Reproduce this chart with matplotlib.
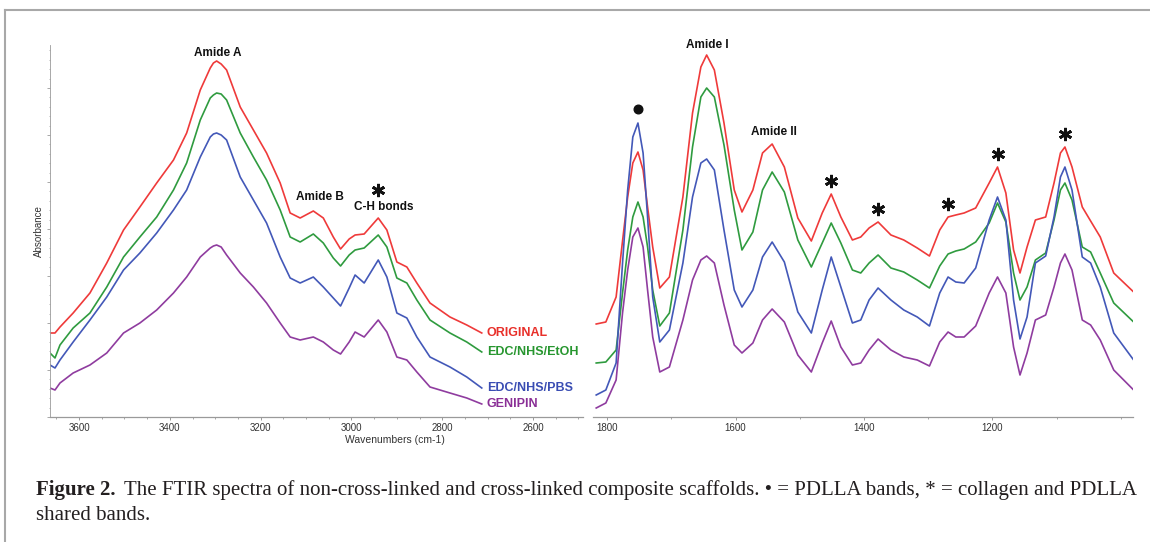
import matplotlib
matplotlib.use('Agg')
import matplotlib.pyplot as plt
import matplotlib.transforms as mtransforms
from matplotlib.lines import Line2D
from matplotlib.ticker import MultipleLocator, NullFormatter, FixedLocator

plt.rcParams['font.family'] = ['Liberation Sans', 'DejaVu Sans']

# ---------------- data ----------------
series_names = ['ORIGINAL', 'EDC/NHS/EtOH', 'EDC/NHS/PBS', 'GENIPIN']

# high wavenumber region (cm-1)
wn_high = [3664, 3653, 3642, 3613, 3576, 3539, 3502, 3466, 3429, 3392, 3363, 3333, 3311,
           3304, 3297, 3287, 3275, 3245, 3216, 3187, 3157, 3135, 3113, 3084, 3062, 3040,
           3024, 3005, 2992, 2972, 2941, 2922, 2900, 2878, 2856, 2827, 2783, 2746, 2713]
original_high = [84, 84, 90, 104, 124, 154, 187, 210, 234, 257, 284, 327, 349, 354, 356, 353,
                 347, 310, 287, 264, 234, 204, 199, 206, 199, 180, 168, 178, 182, 183, 199,
                 187, 155, 150, 134, 114, 100, 92, 84]
etoh_high = [64, 59, 72, 89, 104, 130, 160, 180, 200, 227, 254, 297, 319, 322, 324, 323, 317,
             284, 260, 237, 207, 180, 175, 183, 174, 159, 151, 162, 167, 169, 182, 170, 139,
             134, 117, 97, 84, 75, 65]
pbs_high = [52, 49, 57, 75, 97, 120, 147, 164, 184, 207, 227, 260, 280, 283, 284, 282, 277,
            240, 217, 194, 160, 139, 134, 140, 130, 119, 111, 129, 142, 134, 157, 140, 104,
            99, 80, 60, 50, 40, 29]
genipin_high = [29, 27, 34, 44, 52, 64, 84, 94, 107, 124, 140, 160, 169, 171, 172, 170, 162,
                144, 130, 114, 94, 80, 77, 80, 75, 67, 63, 75, 85, 80, 97, 85, 60, 57, 45,
                30, 24, 19, 13]

# fingerprint region (cm-1)
wn_low = [1817, 1802, 1786, 1776, 1768, 1760, 1752, 1744, 1737, 1729, 1718, 1703, 1682, 1667,
          1654, 1645, 1633, 1618, 1602, 1590, 1573, 1558, 1543, 1524, 1503, 1482, 1465, 1451,
          1436, 1418, 1405, 1392, 1378, 1358, 1338, 1317, 1298, 1282, 1269, 1257, 1244, 1226,
          1205, 1192, 1179, 1167, 1157, 1146, 1133, 1117, 1104, 1094, 1087, 1076, 1060, 1047,
          1032, 1011, 980]
original_low = [93, 95, 120, 176, 220, 254, 265, 247, 210, 170, 129, 140, 220, 304, 350, 362,
                347, 294, 227, 205, 227, 264, 273, 250, 199, 176, 204, 223, 200, 177, 180, 189,
                195, 182, 177, 169, 161, 187, 200, 202, 204, 209, 234, 250, 224, 167, 144, 170,
                197, 200, 234, 264, 270, 250, 210, 196, 180, 144, 125]
etoh_low = [54, 55, 67, 124, 167, 200, 215, 200, 170, 127, 91, 104, 187, 270, 320, 329, 320,
            272, 207, 167, 185, 227, 245, 225, 177, 150, 174, 194, 174, 147, 144, 154, 162, 149,
            145, 137, 129, 151, 163, 166, 168, 175, 194, 214, 195, 144, 117, 130, 157, 164,
            197, 227, 234, 217, 170, 165, 144, 114, 95]
pbs_low = [22, 27, 54, 154, 227, 280, 294, 264, 200, 120, 75, 87, 154, 220, 254, 258, 247, 187,
           127, 110, 127, 160, 175, 155, 105, 84, 127, 160, 130, 94, 97, 117, 129, 117, 107,
           100, 91, 124, 140, 135, 134, 149, 197, 220, 197, 117, 78, 100, 154, 161, 200, 240,
           250, 227, 160, 154, 130, 84, 57]
genipin_low = [9, 14, 37, 104, 147, 180, 189, 170, 127, 80, 45, 50, 97, 137, 157, 161, 154,
               112, 72, 64, 74, 97, 108, 95, 62, 45, 74, 96, 70, 52, 54, 67, 78, 67, 60, 57,
               51, 75, 85, 80, 80, 91, 124, 140, 124, 70, 42, 64, 97, 102, 130, 154, 163, 147,
               97, 92, 77, 47, 27]

high_ticks = [3600, 3400, 3200, 3000, 2800, 2600]
low_ticks = [1800, 1600, 1400, 1200]

star_high = [2941]
star_low = [1451, 1378, 1269, 1192, 1087]
pdlla_peak = 1752

# ---------------- style ----------------
line_colors = ['#ef3a3a', '#2f9b3f', '#4358b8', '#8f3c9f']
label_colors = ['#e8302a', '#27962f', '#3a4db3', '#8a2f96']
axis_gray = '#9a9a9a'

W, H = 1150, 542
fig = plt.figure(figsize=(W / 100, H / 100), dpi=100)


def box(x0, y0, x1, y1):
    return [x0 / W, 1 - y1 / H, (x1 - x0) / W, (y1 - y0) / H]


axL = fig.add_axes(box(50, 45, 583, 417))
axR = fig.add_axes(box(593, 45, 1133, 417))

high_series = [original_high, etoh_high, pbs_high, genipin_high]
low_series = [original_low, etoh_low, pbs_low, genipin_low]

for ys, c in zip(high_series, line_colors):
    axL.plot(wn_high, ys, color=c, lw=1.2, solid_joinstyle='round')
for ys, c in zip(low_series, line_colors):
    axR.plot(wn_low, ys, color=c, lw=1.2, solid_joinstyle='round')

axL.set_xlim(3664, 2490)
axR.set_xlim(1822, 981)
for ax in (axL, axR):
    ax.set_ylim(0, 372)
    for s in ('top', 'right'):
        ax.spines[s].set_visible(False)
    ax.spines['bottom'].set_color(axis_gray)
    ax.spines['bottom'].set_linewidth(0.9)
    ax.tick_params(axis='x', colors=axis_gray, labelcolor='#333333', labelsize=7,
                   length=2.5, width=0.7, pad=2)
    ax.tick_params(axis='x', which='minor', colors=axis_gray, length=1.5, width=0.6)

axL.xaxis.set_major_locator(FixedLocator(high_ticks))
axL.xaxis.set_minor_locator(MultipleLocator(50))
axR.xaxis.set_major_locator(FixedLocator(low_ticks))
axR.xaxis.set_minor_locator(MultipleLocator(100))

axL.spines['left'].set_color(axis_gray)
axL.spines['left'].set_linewidth(0.6)
axL.spines['left'].set_linestyle((0, (1, 1)))
axL.yaxis.set_major_locator(MultipleLocator(47))
axL.yaxis.set_minor_locator(MultipleLocator(9.4))
axL.yaxis.set_major_formatter(NullFormatter())
axL.tick_params(axis='y', colors=axis_gray, length=2, width=0.6)
axL.tick_params(axis='y', which='minor', colors=axis_gray, length=1, width=0.5)
axR.spines['left'].set_visible(False)
axR.set_yticks([])

axL.set_ylabel('Absorbance', fontsize=7, color='#333333', labelpad=-1)
axL.set_xlabel('Wavenumbers (cm-1)', fontsize=7.5, color='#333333')
axL.xaxis.set_label_coords(0.647, -0.048)

# series labels at curve ends
for ys, name, c in zip(high_series, series_names, label_colors):
    axL.annotate(name, xy=(wn_high[-1], ys[-1]), xytext=(5, 0), textcoords='offset pixels',
                 ha='left', va='center', fontsize=9, fontweight='bold', color=c)

# band annotations
bold = dict(fontsize=8.5, fontweight='bold', color='#111111', ha='center', va='center')
i = wn_high.index(3297)
axL.annotate('Amide A', xy=(wn_high[i], original_high[i]), xytext=(1, 8),
             textcoords='offset pixels', **bold)
i = wn_high.index(3084)
axL.annotate('Amide B', xy=(wn_high[i], original_high[i]), xytext=(7, 14),
             textcoords='offset pixels', **bold)
i = wn_high.index(2941)
axL.annotate('C-H bonds', xy=(wn_high[i], original_high[i]), xytext=(6, 11),
             textcoords='offset pixels', **bold)
i = wn_low.index(1645)
axR.annotate('Amide I', xy=(wn_low[i], original_low[i]), xytext=(1, 10),
             textcoords='offset pixels', **bold)
i = wn_low.index(1543)
axR.annotate('Amide II', xy=(wn_low[i], original_low[i]), xytext=(2, 12),
             textcoords='offset pixels', **bold)


def star(ax, x, y, dy):
    tr = mtransforms.offset_copy(ax.transData, fig=fig, x=0, y=dy, units='dots')
    ax.plot([x], [y], marker=(6, 2, 0), ms=9.5, mew=2.0, color='#111111', transform=tr,
            clip_on=False)


for w in star_high:
    i = wn_high.index(w)
    star(axL, w, original_high[i], 28)
for w in star_low:
    i = wn_low.index(w)
    star(axR, w, original_low[i], 13)

i = wn_low.index(pdlla_peak)
tr = mtransforms.offset_copy(axR.transData, fig=fig, x=0, y=14, units='dots')
axR.plot([pdlla_peak], [pbs_low[i]], marker='o', ms=6.2, color='#111111', transform=tr,
         clip_on=False)

# frame lines
fig.add_artist(Line2D([5 / W, 5 / W], [0, 1 - 10 / H], transform=fig.transFigure,
                      color='#a8a8a8', lw=1.5))
fig.add_artist(Line2D([5 / W, 1], [1 - 10 / H, 1 - 10 / H], transform=fig.transFigure,
                      color='#a8a8a8', lw=1.5))

# caption
serif = ['Liberation Serif', 'DejaVu Serif']
cap_color = '#231f20'
t0 = fig.text(36 / W, 1 - 490 / H, 'Figure 2.', family=serif, fontweight='bold', fontsize=13,
              color=cap_color, va='center', ha='left')
t1 = fig.text(124 / W, 1 - 490 / H,
              'The FTIR spectra of non-cross-linked and cross-linked composite scaffolds. '
              '\u2022 = PDLLA bands, * = collagen and PDLLA',
              family=serif, fontsize=13, color=cap_color, va='center', ha='left')
t2 = fig.text(36 / W, 1 - 516 / H, 'shared bands.', family=serif, fontsize=13,
              color=cap_color, va='center', ha='left')

fig.canvas.draw()
r = fig.canvas.get_renderer()
wpx = t1.get_window_extent(r).width
scale = (1128 - 124) / wpx
for t in (t0, t1, t2):
    t.set_fontsize(13 * scale)

fig.savefig('out.png', dpi=100)
